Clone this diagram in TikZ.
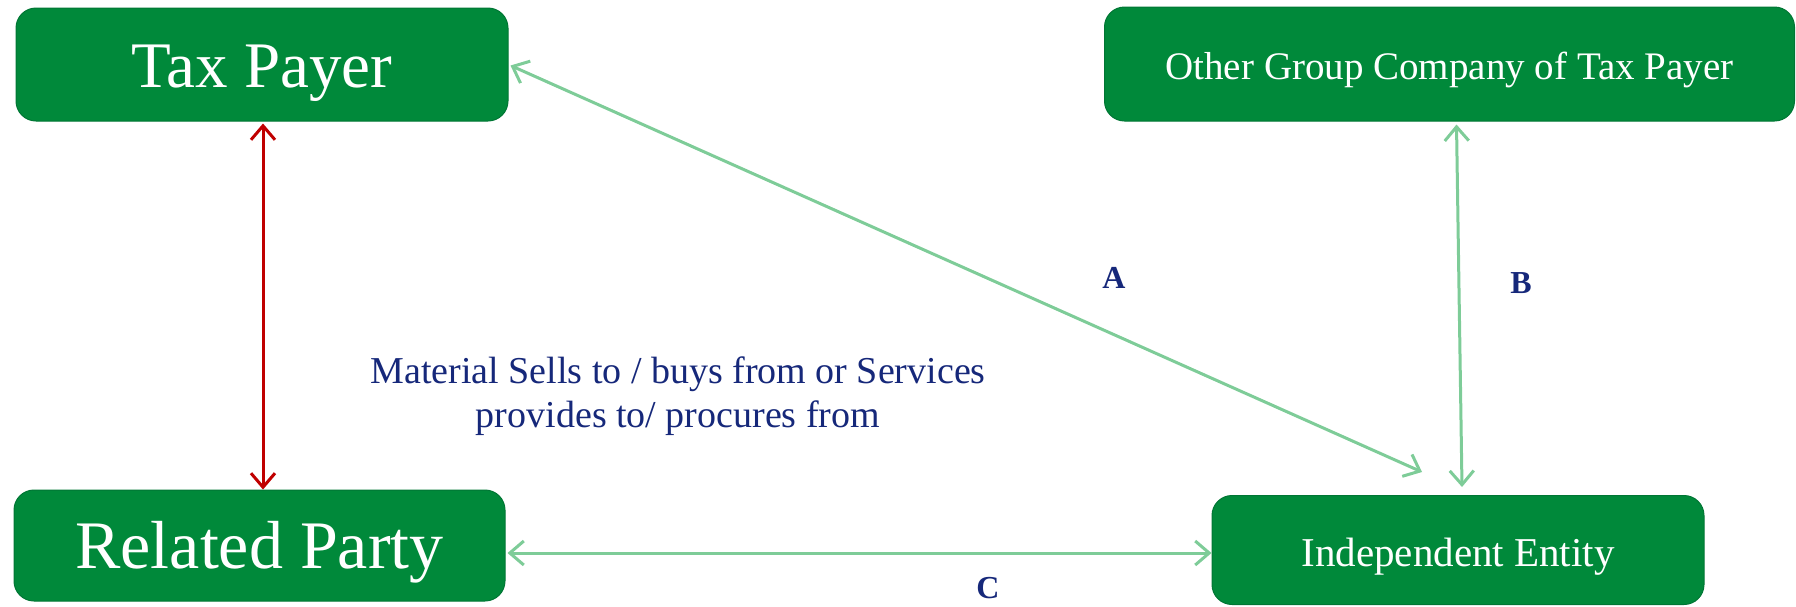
\documentclass[tikz,border=0pt]{standalone}
\usepackage{fontspec}
\setmainfont{Liberation Serif}
\usetikzlibrary{arrows.meta,calc}
\definecolor{boxgreen}{RGB}{0,137,58}
\definecolor{boxedge}{RGB}{0,118,52}
\definecolor{lightarrow}{RGB}{126,204,152}
\definecolor{redarrow}{RGB}{192,0,0}
\definecolor{navytext}{RGB}{22,40,122}
\newcommand{\lowtext}[2]{\raisebox{-#1}[0pt][0pt]{#2}}
\tikzset{
  gbox/.style={draw=boxedge, line width=1pt, fill=boxgreen, rounded corners=20pt, text=white, inner sep=0pt, align=center},
  garrow/.style={draw=lightarrow, line width=3pt, line cap=round, {Straight Barb[length=14pt,width=24pt,line width=3pt]}-{Straight Barb[length=14pt,width=24pt,line width=3pt]}},
  rarrow/.style={draw=redarrow, line width=3pt, {Straight Barb[length=14pt,width=24pt,line width=3pt]}-{Straight Barb[length=14pt,width=24pt,line width=3pt]}},
  letterlbl/.style={text=navytext, font=\bfseries\fontsize{32}{38}\selectfont, inner sep=0pt},
}
\begin{document}
\begin{tikzpicture}[x=1pt,y=-1pt]
\useasboundingbox (0,0) rectangle (1796,606);
\node[gbox, minimum width=492pt, minimum height=113pt, font=\fontsize{65}{78}\selectfont] (tp) at (262,64.5) {\lowtext{23pt}{Tax Payer}};
\node[gbox, minimum width=690pt, minimum height=114pt, font=\fontsize{39}{47}\selectfont] (og) at (1449.5,64) {\lowtext{15pt}{Other Group Company of Tax Payer}};
\node[gbox, minimum width=491pt, minimum height=111pt, font=\fontsize{68}{82}\selectfont] (rp) at (259.5,545.5) {\lowtext{23pt}{Related Party}};
\node[gbox, minimum width=492pt, minimum height=109pt, font=\fontsize{41}{49}\selectfont] (ie) at (1458,550) {\lowtext{16pt}{Independent Entity}};

\coordinate (aend) at (1422,472);
\draw[rarrow] ([xshift=1pt,yshift=-2pt]tp.south) -- ([xshift=1pt]tp.south |- rp.north);
\draw[garrow] ([xshift=2pt,yshift=-1pt]tp.east) -- (aend);
\draw[garrow] ($(og.south)+(7,3)$) -- ($(ie.north)+(4,-8)$);
\draw[garrow] ($(rp.east)+(2,7.5)$) -- ($(ie.west)+(0,3)$);

\node[text=navytext, align=center, font=\fontsize{38}{44}\selectfont] (mid) at (678,396) {Material Sells to / buys from or Services\\provides to/ procures from};
\node[letterlbl] (la) at (1114,278) {A};
\node[letterlbl] (lb) at (1521,283) {B};
\node[letterlbl] (lc) at (988,588) {C};
\end{tikzpicture}
\end{document}
